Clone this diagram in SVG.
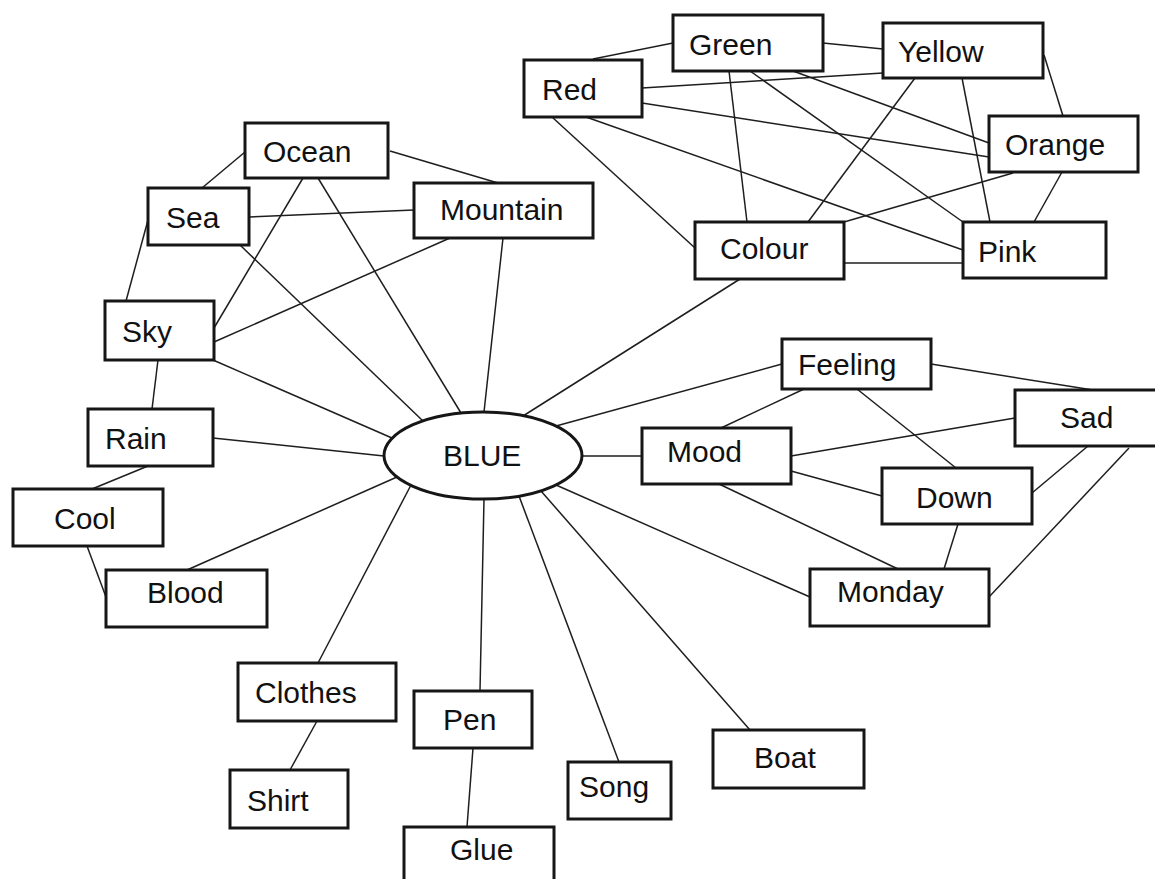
<svg xmlns="http://www.w3.org/2000/svg" width="1155" height="879" viewBox="0 0 1155 879">
  <style>
    .box { fill: #ffffff; stroke: #161616; stroke-width: 3; }
    .hub { fill: #ffffff; stroke: #161616; stroke-width: 3; }
    .lbl { font-family: "Liberation Sans", Arial, sans-serif; font-size: 30px; fill: #111111; }
    #connectors line { stroke: #1e1e1e; stroke-width: 1.5; }
  </style>
  <rect width="1155" height="879" fill="#ffffff"/>

  <g id="connectors">
    <!-- colour cluster -->
    <line x1="593" y1="59" x2="673" y2="43"/>
    <line x1="823" y1="43" x2="883" y2="49"/>
    <line x1="642" y1="88" x2="883" y2="73"/>
    <line x1="642" y1="103" x2="989" y2="157"/>
    <line x1="793" y1="71" x2="989" y2="143"/>
    <line x1="552" y1="117" x2="695" y2="248"/>
    <line x1="586" y1="117" x2="963" y2="250"/>
    <line x1="750" y1="71" x2="963" y2="222"/>
    <line x1="729" y1="71" x2="747" y2="222"/>
    <line x1="915" y1="78" x2="808" y2="222"/>
    <line x1="962" y1="78" x2="990" y2="222"/>
    <line x1="1044" y1="55" x2="1063" y2="116"/>
    <line x1="1062" y1="172" x2="1034" y2="222"/>
    <line x1="1013" y1="173" x2="844" y2="222"/>
    <line x1="844" y1="263" x2="963" y2="263"/>
    <!-- nature cluster -->
    <line x1="245" y1="152" x2="202" y2="188"/>
    <line x1="390" y1="151" x2="498" y2="183"/>
    <line x1="249" y1="217" x2="414" y2="210"/>
    <line x1="148" y1="220" x2="126" y2="301"/>
    <line x1="303" y1="178" x2="214" y2="328"/>
    <line x1="450" y1="238" x2="214" y2="342"/>
    <line x1="158" y1="360" x2="152" y2="409"/>
    <line x1="148" y1="466" x2="92" y2="489"/>
    <line x1="87" y1="546" x2="106" y2="597"/>
    <!-- spokes to the hub -->
    <line x1="740" y1="279" x2="523" y2="416"/>
    <line x1="318" y1="178" x2="461" y2="413"/>
    <line x1="503" y1="238" x2="484" y2="412"/>
    <line x1="240" y1="245" x2="423" y2="421"/>
    <line x1="213" y1="360" x2="392" y2="438"/>
    <line x1="213" y1="438" x2="384" y2="456"/>
    <line x1="187" y1="570" x2="397" y2="477"/>
    <line x1="318" y1="663" x2="411" y2="485"/>
    <line x1="480" y1="691" x2="484" y2="499"/>
    <line x1="619" y1="762" x2="519" y2="496"/>
    <line x1="750" y1="730" x2="541" y2="491"/>
    <line x1="810" y1="597" x2="556" y2="485"/>
    <line x1="642" y1="456" x2="582" y2="456"/>
    <line x1="782" y1="364" x2="556" y2="426"/>
    <!-- mood cluster -->
    <line x1="804" y1="389" x2="721" y2="428"/>
    <line x1="857" y1="389" x2="956" y2="468"/>
    <line x1="931" y1="364" x2="1093" y2="390"/>
    <line x1="791" y1="456" x2="1015" y2="418"/>
    <line x1="791" y1="471" x2="882" y2="496"/>
    <line x1="719" y1="484" x2="898" y2="569"/>
    <line x1="1032" y1="493" x2="1088" y2="446"/>
    <line x1="958" y1="524" x2="944" y2="569"/>
    <line x1="989" y1="597" x2="1129" y2="448"/>
    <!-- leaf links -->
    <line x1="317" y1="721" x2="290" y2="770"/>
    <line x1="473" y1="748" x2="467" y2="827"/>
  </g>

  <g id="node-blue">
    <ellipse class="hub" cx="483" cy="455.5" rx="99" ry="43.5"/>
    <text class="lbl" x="443" y="466">BLUE</text>
  </g>
  <g id="node-green"><rect class="box" x="673" y="15" width="150" height="56"/><text class="lbl" x="689" y="55">Green</text></g>
  <g id="node-red"><rect class="box" x="524" y="60" width="118" height="57"/><text class="lbl" x="542" y="100">Red</text></g>
  <g id="node-yellow"><rect class="box" x="883" y="23" width="160" height="55"/><text class="lbl" x="898" y="62">Yellow</text></g>
  <g id="node-orange"><rect class="box" x="989" y="116" width="149" height="56"/><text class="lbl" x="1005" y="155">Orange</text></g>
  <g id="node-pink"><rect class="box" x="963" y="222" width="143" height="56"/><text class="lbl" x="978" y="262">Pink</text></g>
  <g id="node-colour"><rect class="box" x="695" y="222" width="149" height="57"/><text class="lbl" x="720" y="259">Colour</text></g>
  <g id="node-ocean"><rect class="box" x="245" y="123" width="143" height="55"/><text class="lbl" x="263" y="162">Ocean</text></g>
  <g id="node-sea"><rect class="box" x="148" y="188" width="101" height="57"/><text class="lbl" x="166" y="228">Sea</text></g>
  <g id="node-mountain"><rect class="box" x="414" y="183" width="179" height="55"/><text class="lbl" x="440" y="220">Mountain</text></g>
  <g id="node-sky"><rect class="box" x="105" y="301" width="109" height="59"/><text class="lbl" x="122" y="342">Sky</text></g>
  <g id="node-rain"><rect class="box" x="88" y="409" width="125" height="57"/><text class="lbl" x="105" y="449">Rain</text></g>
  <g id="node-cool"><rect class="box" x="13" y="489" width="150" height="57"/><text class="lbl" x="54" y="529">Cool</text></g>
  <g id="node-blood"><rect class="box" x="106" y="570" width="161" height="57"/><text class="lbl" x="147" y="603">Blood</text></g>
  <g id="node-feeling"><rect class="box" x="782" y="339" width="149" height="50"/><text class="lbl" x="798" y="375">Feeling</text></g>
  <g id="node-sad"><rect class="box" x="1015" y="390" width="142" height="56"/><text class="lbl" x="1060" y="428">Sad</text></g>
  <g id="node-mood"><rect class="box" x="642" y="428" width="149" height="56"/><text class="lbl" x="667" y="462">Mood</text></g>
  <g id="node-down"><rect class="box" x="882" y="468" width="150" height="56"/><text class="lbl" x="916" y="508">Down</text></g>
  <g id="node-monday"><rect class="box" x="810" y="569" width="179" height="57"/><text class="lbl" x="837" y="602">Monday</text></g>
  <g id="node-clothes"><rect class="box" x="238" y="663" width="158" height="58"/><text class="lbl" x="255" y="703">Clothes</text></g>
  <g id="node-shirt"><rect class="box" x="230" y="770" width="118" height="58"/><text class="lbl" x="247" y="811">Shirt</text></g>
  <g id="node-pen"><rect class="box" x="414" y="691" width="118" height="57"/><text class="lbl" x="443" y="730">Pen</text></g>
  <g id="node-song"><rect class="box" x="568" y="762" width="103" height="57"/><text class="lbl" x="579" y="797">Song</text></g>
  <g id="node-glue"><rect class="box" x="404" y="827" width="150" height="60"/><text class="lbl" x="450" y="860">Glue</text></g>
  <g id="node-boat"><rect class="box" x="713" y="730" width="151" height="58"/><text class="lbl" x="754" y="768">Boat</text></g>
</svg>
